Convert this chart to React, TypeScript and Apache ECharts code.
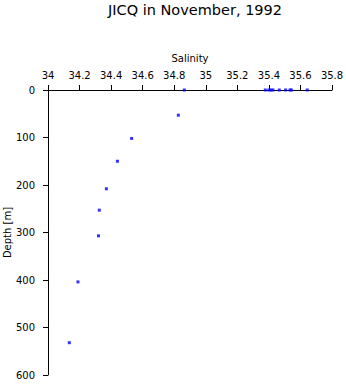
import React, { useEffect, useRef } from "react";
import * as echarts from "echarts";

const titleText = "JICQ in November, 1992";
const xAxisName = "Salinity";
const yAxisName = "Depth [m]";
const salinity = [35.377, 35.4, 35.413, 35.426, 35.466, 35.506, 35.534, 35.542, 35.643, 34.864, 34.826, 34.53, 34.44, 34.37, 34.325, 34.32, 34.19, 34.135];
const depth = [0, 0, 0, 0, 0, 0, 0, 0, 0, 0, 53, 102, 150, 208, 253, 307, 404, 532];

const FONT = "DejaVu Sans";

export default function App() {
  const ref = useRef<HTMLDivElement>(null);
  useEffect(() => {
    if (!ref.current) return;
    const chart = echarts.init(ref.current, undefined, { renderer: "svg" });
    chart.setOption({
      animation: false,
      backgroundColor: "#ffffff",
      title: {
        text: titleText,
        left: 190,
        textAlign: "center",
        top: -3,
        textStyle: { fontFamily: FONT, fontSize: 14.5, fontWeight: "normal", color: "#000" },
      },
      grid: { left: 48, right: 14, top: 90, bottom: 9, containLabel: false, outerBoundsMode: "none" },
      xAxis: {
        type: "value",
        position: "top",
        min: 34,
        max: 35.8,
        interval: 0.2,
        name: xAxisName,
        nameLocation: "middle",
        nameGap: 27,
        nameMoveOverlap: false,
        nameTextStyle: { fontFamily: FONT, fontSize: 10, color: "#000" },
        axisLine: { show: true, lineStyle: { color: "#000", width: 1 } },
        axisTick: { show: true, length: 5, lineStyle: { color: "#000", width: 1 } },
        axisLabel: {
          fontFamily: FONT,
          fontSize: 10,
          color: "#000",
          margin: 10,
          formatter: (v: number) => String(+v.toFixed(1)),
        },
        splitLine: { show: false },
      },
      yAxis: {
        type: "value",
        inverse: true,
        min: 0,
        max: 600,
        interval: 100,
        name: yAxisName,
        nameLocation: "middle",
        nameGap: 36,
        nameRotate: 90,
        nameMoveOverlap: false,
        nameTextStyle: { fontFamily: FONT, fontSize: 10, color: "#000" },
        axisLine: { show: true, lineStyle: { color: "#000", width: 1 } },
        axisTick: { show: true, length: 5, lineStyle: { color: "#000", width: 1 } },
        axisLabel: { fontFamily: FONT, fontSize: 10, color: "#000", margin: 13 },
        splitLine: { show: false },
      },
      series: [
        {
          type: "scatter",
          data: salinity.map((s, i) => [s, depth[i]]),
          symbol: "rect",
          symbolSize: 3,
          clip: false,
          itemStyle: { color: "#0000ff" },
        },
      ],
    });
    return () => chart.dispose();
  }, []);
  return <div ref={ref} style={{ width: 346, height: 384, position: "absolute", left: 0, top: 0 }} />;
}
